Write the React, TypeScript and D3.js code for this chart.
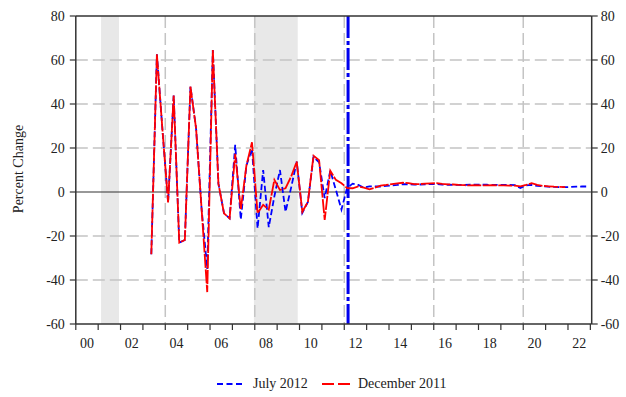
import React from "react";
import * as d3 from "d3";

const quarters: number[] = [];
for (let yr = 2003; yr <= 2022; yr++) {
  for (let q = 1; q <= 4; q++) {
    if (yr === 2003 && q === 1) continue;
    quarters.push(yr + (q - 0.5) / 4);
  }
}

// December 2011 vintage (red), 2003Q2 .. 2021Q4
const dec2011: number[] = [
  -28.3, 62.6, 28, -4.7,
  43.8, -23, -21.8, 47.9,
  29, -8, -45.5, 64.5,
  3.8, -9.7, -12, 17.3,
  -8, 12, 22.6, -9.7,
  -5.8, -8, 5.5, 0.9,
  1.7, 7, 13.8, -9,
  -4.5, 16.5, 14.5, -12.7,
  9.7, 5.5, 4, 1.8,
  1.7, 2.5, 2.0, 1.2,
  2.0, 2.9, 3.2, 3.6,
  3.9, 4.2, 4.0, 3.6,
  3.6, 3.8, 3.9, 4.0,
  3.7, 3.5, 3.4, 3.2,
  3.1, 3.0, 3.1, 3.0,
  3.0, 3.1, 3.0, 3.0,
  2.9, 2.9, 2.6, 3.2,
  4.0, 3.2, 2.8, 2.6,
  2.4, 2.3, 2.2,
];

// July 2012 vintage (blue), 2003Q2 .. 2022Q4
const jul2012: number[] = [
  -28.3, 62.6, 28, -4.7,
  43.8, -23, -21.8, 47.9,
  29, -8, -35, 64.5,
  3.8, -9.7, -12, 21.4,
  -12.5, 12, 19.6, -16.5,
  10, -16, -2, 10,
  -9, 2, 13.8, -9.5,
  -4.5, 16, 13.5, -2.8,
  9.7, 1, -8, 1.8,
  3.8, 3.2, 2.0, 2.6,
  2.5, 2.5, 2.8, 3.0,
  3.2, 3.6, 3.5, 3.4,
  3.4, 3.5, 3.6, 3.6,
  3.4, 3.3, 3.2, 3.2,
  3.2, 3.3, 3.3, 3.3,
  3.3, 3.2, 3.2, 3.2,
  3.2, 3.1, 1.8, 3.0,
  3.2, 2.8, 2.6, 2.4,
  2.3, 2.2, 2.2, 2.3,
  2.4, 2.5, 2.5,
];

const recessions: [number, number][] = [
  [2001.13, 2001.93],
  [2007.96, 2009.92],
];
const vintageLine = 2012.17;
const yTicks = [-60, -40, -20, 0, 20, 40, 60, 80];
const xYearTicks = d3.range(2000, 2024);
const xLabelYears = d3.range(2000, 2023, 2);
const xGridYears = [2004, 2008, 2012, 2016, 2020];

const FONT = "Liberation Serif, Times New Roman, DejaVu Serif, serif";

export default function App() {
  const W = 626, H = 397;
  const x = d3.scaleLinear().domain([2000, 2023.06]).range([75.8, 591.7]);
  const y = d3.scaleLinear().domain([-60, 80]).range([324, 16]);
  const [x0, x1] = x.range();
  const [yb, yt] = y.range();

  const line = d3
    .line<[number, number]>()
    .x((d) => x(d[0]))
    .y((d) => y(d[1]));
  const redPts = dec2011.map((v, i) => [quarters[i], v] as [number, number]);
  const bluePts = jul2012.map((v, i) => [quarters[i], v] as [number, number]);
  const ts = { fontFamily: FONT, fontSize: "14px" } as React.CSSProperties;

  return (
    <svg
      width={W}
      height={H}
      style={{ position: "absolute", left: 0, top: 0, background: "#fff", fontFamily: FONT }}
    >
      <rect x={0} y={0} width={W} height={H} fill="#fff" />
      {recessions.map(([a, b], i) => (
        <rect key={i} x={x(a)} y={yt} width={x(b) - x(a)} height={yb - yt} fill="#e8e8e8" />
      ))}
      {yTicks
        .filter((t) => t !== 0 && t !== 80 && t !== -60)
        .map((t) => (
          <line key={t} x1={x0} x2={x1} y1={y(t)} y2={y(t)} stroke="#c4c4c4" strokeWidth={1.5} strokeDasharray="12,5" />
        ))}
      {xGridYears.map((t) => (
        <line key={t} x1={x(t)} x2={x(t)} y1={yt} y2={yb} stroke="#c4c4c4" strokeWidth={1.5} strokeDasharray="12,5" />
      ))}
      <line x1={x0} x2={x1} y1={y(0)} y2={y(0)} stroke="#333" strokeWidth={1.2} />
      <line
        x1={x(vintageLine)}
        x2={x(vintageLine)}
        y1={yt}
        y2={yb}
        stroke="#0000ee"
        strokeWidth={3}
        strokeDasharray="22,3,4,3"
      />
      <path d={line(bluePts) || ""} fill="none" stroke="#0000ff" strokeWidth={1.8} strokeDasharray="6,3" />
      <path d={line(redPts) || ""} fill="none" stroke="#ff0000" strokeWidth={1.8} strokeDasharray="14,1.5" />
      {/* frame */}
      <line x1={x0} x2={x1} y1={yt} y2={yt} stroke="#333" strokeWidth={1.5} />
      <line x1={x0} x2={x1} y1={yb} y2={yb} stroke="#333" strokeWidth={1.5} />
      <line x1={x0} x2={x0} y1={yt} y2={yb} stroke="#333" strokeWidth={1.5} />
      <line x1={x1} x2={x1} y1={yt} y2={yb} stroke="#333" strokeWidth={1.5} />
      {yTicks.map((t) => (
        <g key={t}>
          <line x1={x0 - 6} x2={x0} y1={y(t)} y2={y(t)} stroke="#333" strokeWidth={1.2} />
          <text x={x0 - 11} y={y(t)} dy="0.35em" textAnchor="end" style={ts} fill="#222">
            {t}
          </text>
          <line x1={x1} x2={x1 + 6} y1={y(t)} y2={y(t)} stroke="#333" strokeWidth={1.2} />
          <text x={x1 + 9} y={y(t)} dy="0.35em" textAnchor="start" style={ts} fill="#222">
            {t}
          </text>
        </g>
      ))}
      {xYearTicks.map((t) => (
        <line key={t} x1={x(t)} x2={x(t)} y1={yb} y2={yb + 6} stroke="#333" strokeWidth={1.2} />
      ))}
      {xLabelYears.map((t) => (
        <text key={t} x={x(t + 0.5)} y={348} textAnchor="middle" style={ts} fill="#222">
          {String(t % 100).padStart(2, "0")}
        </text>
      ))}
      <text
        transform={`translate(18,169) rotate(-90)`}
        textAnchor="middle"
        dy="0.35em"
        style={ts}
        fill="#222"
      >
        Percent Change
      </text>
      <g>
        <line x1={217} x2={243} y1={384} y2={384} stroke="#0000ff" strokeWidth={1.8} strokeDasharray="6,3.5" />
        <text x={253} y={388} style={ts} fill="#222">July 2012</text>
        <line x1={322} x2={350} y1={384} y2={384} stroke="#ff0000" strokeWidth={1.8} strokeDasharray="12,4" />
        <text x={358} y={388} style={ts} fill="#222">December 2011</text>
      </g>
    </svg>
  );
}
